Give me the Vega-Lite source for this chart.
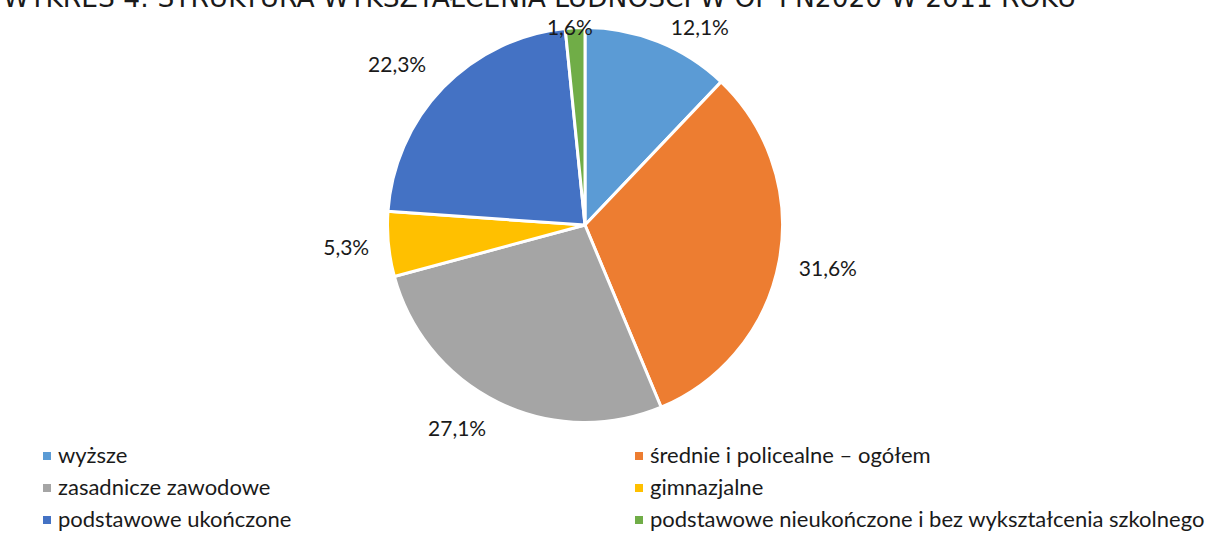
{
  "$schema": "https://vega.github.io/schema/vega-lite/v6.json",
  "width": 1152,
  "height": 432,
  "autosize": {"type": "none"},
  "padding": {"left": 9, "top": 9, "right": 54, "bottom": 103},
  "background": "white",
  "title": {
    "text": "WYKRES 4: STRUKTURA WYKSZTAŁCENIA LUDNOŚCI W OF PN2020 W 2011 ROKU",
    "anchor": "start",
    "frame": "group",
    "font": "DejaVu Sans",
    "fontSize": 26.5,
    "fontWeight": "normal",
    "color": "#1a1a1a",
    "offset": -3,
    "dx": -6
  },
  "data": {
    "values": [
      {"nr": 1, "kategoria": "wyższe", "udzial": 0.121},
      {"nr": 2, "kategoria": "średnie i policealne – ogółem", "udzial": 0.316},
      {"nr": 3, "kategoria": "zasadnicze zawodowe", "udzial": 0.271},
      {"nr": 4, "kategoria": "gimnazjalne", "udzial": 0.053},
      {"nr": 5, "kategoria": "podstawowe ukończone", "udzial": 0.223},
      {"nr": 6, "kategoria": "podstawowe nieukończone i bez wykształcenia szkolnego", "udzial": 0.016}
    ]
  },
  "transform": [
    {"stack": "udzial", "groupby": [], "sort": [{"field": "nr", "order": "ascending"}], "as": ["t0", "t1"]}
  ],
  "layer": [
    {
      "mark": {"type": "arc", "outerRadius": 197.5, "stroke": "white", "strokeWidth": 3},
      "encoding": {
        "theta": {"field": "t0", "type": "quantitative", "stack": null, "scale": {"domain": [0, 1]}},
        "theta2": {"field": "t1"},
        "color": {
          "field": "kategoria",
          "type": "nominal",
          "scale": {
            "domain": ["wyższe", "średnie i policealne – ogółem", "zasadnicze zawodowe", "gimnazjalne", "podstawowe ukończone", "podstawowe nieukończone i bez wykształcenia szkolnego"],
            "range": ["#5B9BD5", "#ED7D31", "#A5A5A5", "#FFC000", "#4472C4", "#70AD47"]
          },
          "legend": {
            "orient": "none",
            "direction": "horizontal",
            "legendX": 27,
            "legendY": 436,
            "columns": 2,
            "columnPadding": 336,
            "rowPadding": 10,
            "padding": 0,
            "title": null,
            "symbolType": "square",
            "symbolSize": 64,
            "symbolStrokeWidth": 0,
            "symbolOpacity": 1,
            "labelFont": "Lato",
            "labelFontSize": 22,
            "labelColor": "#1a1a1a",
            "labelOffset": 0,
            "labelLimit": 0
          }
        }
      }
    },
    {
      "transform": [{"filter": "datum.nr === 1"}],
      "mark": {"type": "text", "radius": 227, "thetaOffset": 0.5306, "font": "Lato", "fontSize": 21, "color": "#1a1a1a"},
      "encoding": {
        "theta": {"field": "t0", "type": "quantitative", "stack": null},
        "text": {"field": "udzial", "type": "quantitative", "format": ".1%"}
      }
    },
    {
      "transform": [{"filter": "datum.nr === 2"}],
      "mark": {"type": "text", "radius": 247, "thetaOffset": 0.9938, "font": "Lato", "fontSize": 21, "color": "#1a1a1a"},
      "encoding": {
        "theta": {"field": "t0", "type": "quantitative", "stack": null},
        "text": {"field": "udzial", "type": "quantitative", "format": ".1%"}
      }
    },
    {
      "transform": [{"filter": "datum.nr === 3"}],
      "mark": {"type": "text", "radius": 242, "thetaOffset": 0.9526, "font": "Lato", "fontSize": 21, "color": "#1a1a1a"},
      "encoding": {
        "theta": {"field": "t0", "type": "quantitative", "stack": null},
        "text": {"field": "udzial", "type": "quantitative", "format": ".1%"}
      }
    },
    {
      "transform": [{"filter": "datum.nr === 4"}],
      "mark": {"type": "text", "radius": 240, "thetaOffset": 0.1644, "font": "Lato", "fontSize": 21, "color": "#1a1a1a"},
      "encoding": {
        "theta": {"field": "t0", "type": "quantitative", "stack": null},
        "text": {"field": "udzial", "type": "quantitative", "format": ".1%"}
      }
    },
    {
      "transform": [{"filter": "datum.nr === 5"}],
      "mark": {"type": "text", "radius": 246, "thetaOffset": 0.6325, "font": "Lato", "fontSize": 21, "color": "#1a1a1a"},
      "encoding": {
        "theta": {"field": "t0", "type": "quantitative", "stack": null},
        "text": {"field": "udzial", "type": "quantitative", "format": ".1%"}
      }
    },
    {
      "transform": [{"filter": "datum.nr === 6"}],
      "mark": {"type": "text", "radius": 197, "thetaOffset": 0.0237, "font": "Lato", "fontSize": 21, "color": "#1a1a1a"},
      "encoding": {
        "theta": {"field": "t0", "type": "quantitative", "stack": null},
        "text": {"field": "udzial", "type": "quantitative", "format": ".1%"}
      }
    }
  ],
  "config": {
    "view": {"stroke": null},
    "locale": {
      "number": {"decimal": ",", "thousands": " ", "grouping": [3], "currency": ["", " zł"]}
    }
  }
}
